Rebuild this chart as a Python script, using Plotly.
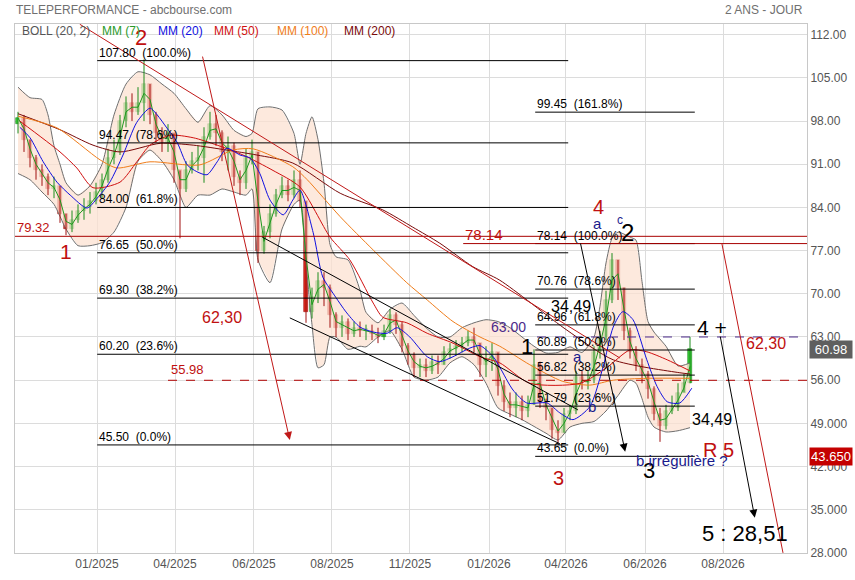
import plotly.graph_objects as go
import pandas as pd

FONT = "Liberation Sans, Arial, sans-serif"

title_text = "TELEPERFORMANCE - abcbourse.com"
period_text = "2 ANS - JOUR"

# ---- price data (one candle per ~4 sessions) ----
first_open = 97.5
closes = [98.5, 95, 92, 90, 89, 87, 87.5, 83, 80.5, 82, 83.5, 84, 85, 86.5, 88.5, 92, 93, 98, 101, 99.5,
          101, 104, 99, 96, 94.5, 96, 90, 87, 90, 91.5, 92, 95.5, 97.5, 96, 93, 94, 89, 88, 92, 93,
          77, 80, 83, 86, 87.5, 86, 88.5, 85, 67, 69.5, 72, 71, 66.5, 64.5, 65.5, 63.5, 64.5, 64, 64, 63.5,
          63, 64, 66.5, 65, 61.5, 60, 58, 58.5, 57.5, 59, 58.5, 60.5, 61, 61.5, 62, 63, 62, 58.5, 59.5, 60.5,
          55, 52.5, 51.5, 52.5, 51, 52, 58.5, 52.5, 51.5, 48, 47.5, 50.5, 51, 56.5, 55.5, 56, 60.5, 63, 69, 75.5,
          71, 64, 60.5, 58.5, 57, 54.5, 50.5, 48.5, 51, 51.5, 54, 55.5, 60.98]
highs = [99.5, 99, 95, 92.5, 91, 89.5, 89, 87.5, 83, 83.5, 84.5, 85.5, 86.5, 88, 89.5, 93.5, 95, 99, 102, 102.5,
         103.5, 108, 104, 99.5, 97, 97.5, 96, 90, 91.5, 93, 94, 97, 99.5, 99, 96.5, 95.5, 94.5, 90, 93.5, 95,
         93, 81, 84.5, 87, 89, 88.5, 90, 90, 85, 71, 73.5, 73.5, 71.5, 67, 66.5, 66, 65.5, 65.5, 65, 65,
         64.5, 65, 67.5, 67, 65.5, 62, 60.5, 59.5, 59.5, 60, 60, 61.5, 62, 62.5, 63, 64, 64.5, 62, 61.5, 62,
         60.5, 56, 54, 54, 53.5, 53.5, 61, 59, 53, 51.5, 49.5, 51.5, 52, 57.5, 57.5, 57.5, 61.5, 64, 70.5, 76.6,
         75.5, 71, 64.5, 61.5, 59.5, 57.5, 55, 51.5, 52, 53.5, 55.5, 57, 63]
lows = [96, 93, 90.5, 88.5, 87.5, 86, 85.5, 81.5, 79.5, 80, 81.5, 82, 83, 84.5, 85.5, 88, 91, 92.5, 97, 98,
        99, 98, 97.5, 94.5, 93, 93, 88, 79, 86.5, 89.5, 90, 88, 95, 94, 91.5, 90, 87.5, 86, 87, 91,
        75, 76.5, 79, 82.5, 85.5, 85, 85.5, 84, 65.3, 66, 68.5, 68, 64.5, 63, 63, 62.5, 63, 63, 62.5, 62.5,
        62, 62.5, 63.5, 63.5, 60.5, 58.5, 56.5, 56.5, 56.5, 57, 57, 58.5, 59.5, 60, 60.5, 61.5, 60.5, 56.5, 56.5, 57.5,
        53.5, 51, 50, 50, 49.5, 50, 52, 51.5, 49.5, 46.5, 45.8, 47.5, 49.5, 50.5, 54.5, 54.5, 55.5, 59.5, 62.5, 68.5,
        69, 62.5, 59.5, 57.5, 55.5, 53, 49.5, 46, 48, 50.5, 51, 54, 55.5]
opens = [first_open] + closes[:-1]
idx = list(range(len(closes)))

# ---- indicators ----
mm20_x = [0.3, 2, 4.2, 6.5, 8.7, 11.5, 13.2, 15.3, 17.5, 19.8, 22, 23.2, 24.8, 26.5, 28.2, 29.8, 31.5, 33.2, 34.8, 37,
          38.7, 40.3, 42, 44.2, 45.8, 47, 49.2, 50.8, 52.5, 54.8, 57, 59.2, 61.5, 63.2, 65.3, 68.2, 70.3, 72.5, 75.3, 77,
          79.2, 80.3, 82.5, 84.8, 88.2, 90.3, 92.5, 95.3, 97.5, 99.2, 100.8, 102.5, 104.8, 106.5, 108.2, 110.3, 112.3]
mm20_y = [97, 95.3, 91.4, 88.1, 86, 83.9, 85.5, 88.1, 92.5, 97.8, 100.1, 99, 96.9, 94.6, 90.9, 89.8, 89.3, 91.4, 93.6, 92.5,
          92, 89.5, 85.2, 82.8, 85.2, 86.8, 79.9, 72.7, 70.1, 66.9, 64.6, 63.8, 63.6, 64.5, 63, 59.8, 59, 59.8, 61.2, 61.6,
          59.8, 58.1, 54.4, 52.3, 52.3, 50.7, 49.6, 51.7, 58.1, 64.6, 67.1, 65.8, 59.3, 55, 52.5, 52.3, 54.7]
mm50_x = [0.3, 7, 9.8, 12.5, 17, 19.8, 22, 25.3, 29.2, 33.2, 37.5, 42.5, 47, 52, 55.3, 59.2, 60.8, 64.8, 68.2, 72.5,
          77, 80.3, 85.3, 93.7, 98.2, 102, 104.8, 108.2, 112]
mm50_y = [98, 93, 90.4, 87.2, 88.1, 91.4, 94.1, 95.7, 95.3, 94.1, 92.5, 90, 87.3, 79.2, 75.5, 68.5, 66.2, 65.3, 63.6, 62,
          59.8, 58.8, 55.5, 55.5, 58.1, 60.9, 60.6, 59.3, 57.5]
mm100_x = [0, 6.5, 13.7, 16.5, 22, 30.3, 35.8, 39.2, 45.8, 48.2, 53.7, 59.2, 64.8, 68.2, 72.5, 77, 80.3, 85.3, 90.8, 95.3,
           99.2, 104.8, 112]
mm100_y = [98.8, 96.9, 91.7, 90.4, 91.4, 90.9, 93.3, 93.5, 90.6, 88.5, 82.5, 77.1, 71.8, 69, 65.5, 63, 61.5, 58.5, 55.8, 55.2,
           56, 56.3, 56.3]
mm200_x = [0, 7, 12.5, 17, 23.7, 29.2, 34.8, 39.8, 45.8, 53.7, 60.8, 65.8, 70.3, 75.8, 80.3, 91.5, 99.2, 110.3, 112]
mm200_y = [99.2, 96.6, 94.1, 93, 94.4, 94.1, 93.3, 92.5, 91.2, 86.3, 83.6, 80.8, 78.2, 74.4, 72.2, 64.1, 59.3, 57.2, 57]

boll_up_x = [0, 2, 4, 5, 6, 7, 8, 10, 12, 14, 16, 18, 20, 22, 24, 26, 28, 30, 32, 34, 36, 38, 39, 40, 42, 44, 46, 47,
             48, 49, 50, 51, 52, 53, 55, 57, 58, 60, 62, 64, 66, 68, 70, 72, 74, 76, 78, 80, 82, 84, 86, 88, 90, 92,
             94, 96, 97, 98, 99, 100, 102, 103, 104, 105, 106, 108, 110, 112]
boll_up = [103.5, 101.8, 101.5, 99, 94, 91, 88, 86, 87.5, 91, 99, 104, 106, 105.5, 104, 102.5, 100, 97.8, 100.5, 99,
           96.5, 95.5, 96, 100, 100.3, 99.8, 96, 91, 96, 98.7, 95, 88, 78, 76, 75.5, 70.6, 67, 65.3, 67.5, 68.5,
           66.5, 64.5, 63, 63, 64.5, 65.3, 65.8, 65.5, 64.5, 63, 61.5, 60.4, 60.5, 61.4, 60.5, 63, 68, 75, 79, 80,
           79.2, 78.7, 72, 65.5, 63.8, 61.5, 58.3, 58.8]
boll_lo_x = [0, 2, 4, 6, 8, 10, 12, 14, 16, 18, 20, 22, 24, 26, 27, 28, 30, 32, 34, 36, 38, 39, 40, 42, 44, 46, 47, 48,
             49, 50, 51, 52, 53, 55, 57, 58, 60, 62, 64, 66, 68, 70, 72, 74, 76, 78, 80, 82, 84, 86, 88, 90, 92, 94,
             96, 98, 100, 102, 103, 104, 105, 106, 108, 110, 112]
boll_lo = [89.5, 88.5, 86.5, 84.5, 80.5, 77.8, 77.8, 78.3, 80, 84, 91.5, 93.3, 91.5, 88.5, 86, 84, 86, 86, 87, 86.5,
           86, 87, 75.5, 71.8, 80.5, 84.5, 85.2, 75, 65, 58, 58.5, 63, 63, 61, 61.5, 61.4, 63, 64, 61, 56.5,
           56, 56.5, 58.8, 59.8, 58.5, 55.5, 51.5, 50.5, 49.6, 48.5, 47.4, 46.3, 48.4, 49, 49.3, 51, 53.5, 56, 55.5, 53,
           50, 48.4, 47.6, 47.8, 48.3]

# ---- axes ----
x_tick_pos = [13.17, 26.17, 39.33, 52.33, 65.33, 78.5, 91.33, 104.5, 117.5]
x_tick_labels = ["01/2025", "04/2025", "06/2025", "08/2025", "11/2025", "01/2026", "04/2026", "06/2026", "08/2026"]
y_ticks = [28, 35, 42, 49, 56, 63, 70, 77, 84, 91, 98, 105, 112]
y_tick_labels = ["28.000", "35.000", "42.000", "49.000", "56.00", "63.00", "70.00", "77.00", "84.00",
                 "91.00", "98.00", "105.00", "112.00"]

# ---- fibonacci retracements ----
fib1_levels = [107.80, 94.47, 84.00, 76.65, 69.30, 60.20, 45.50]
fib1_pcts = ["100.0%", "78.6%", "61.8%", "50.0%", "38.2%", "23.6%", "0.0%"]
fib1_span = [13.2, 91.7]
fib2_levels = [99.45, 78.14, 70.76, 64.96, 60.89, 56.82, 51.79, 43.65]
fib2_pcts = ["161.8%", "100.0%", "78.6%", "61.8%", "50.0%", "38.2%", "23.6%", "0.0%"]
fib2_span = [86.2, 112.8]

last_price = 60.98
red_tag_price = 43.65

fig = go.Figure()

# Bollinger band
band_x = boll_up_x + boll_lo_x[::-1]
band_y = boll_up + boll_lo[::-1]
fig.add_trace(go.Scatter(x=band_x, y=band_y, fill="toself", fillcolor="rgba(252,226,210,0.75)",
                         line=dict(width=0), mode="lines", hoverinfo="skip", showlegend=False))
for bx, by in [(boll_up_x, boll_up), (boll_lo_x, boll_lo)]:
    fig.add_trace(go.Scatter(x=bx, y=by, mode="lines", line=dict(color="#6e6e6e", width=1, shape="spline", smoothing=0.6),
                             hoverinfo="skip", showlegend=False))

# candles: wicks + bodies
UP_FILL, UP_LINE = "#36c936", "#1c8c1c"
DN_FILL, DN_LINE = "#dc2a1e", "#a01010"
for up in (True, False):
    wx, wy = [], []
    for i, o, h, l, c in zip(idx, opens, highs, lows, closes):
        if (c >= o) == up:
            wx += [i, i, None]
            wy += [l, h, None]
    fig.add_trace(go.Scatter(x=wx, y=wy, mode="lines", line=dict(color=UP_LINE if up else DN_LINE, width=1),
                             hoverinfo="skip", showlegend=False))
body_base = [min(o, c) for o, c in zip(opens, closes)]
body_len = [max(abs(c - o), 0.25) for o, c in zip(opens, closes)]
body_fill = [UP_FILL if c >= o else DN_FILL for o, c in zip(opens, closes)]
body_line = [UP_LINE if c >= o else DN_LINE for o, c in zip(opens, closes)]
fig.add_trace(go.Bar(x=idx, y=body_len, base=body_base, width=0.62,
                     marker=dict(color=body_fill, line=dict(color=body_line, width=0.6)),
                     hoverinfo="skip", showlegend=False))

mm7 = pd.Series(closes).rolling(2, min_periods=1).mean().tolist()
fig.add_trace(go.Scatter(x=idx, y=mm7, mode="lines", line=dict(color="#1f9a1f", width=1), showlegend=False, hoverinfo="skip"))
for mx, my, col in [(mm200_x, mm200_y, "#7a0a0a"), (mm100_x, mm100_y, "#f07d1a"),
                    (mm50_x, mm50_y, "#d01010"), (mm20_x, mm20_y, "#1010e0")]:
    fig.add_trace(go.Scatter(x=mx, y=my, mode="lines", line=dict(color=col, width=1, shape="spline", smoothing=0.7),
                             showlegend=False, hoverinfo="skip"))

shapes = []
annotations = []

def txt(x, y, s, color, size, xanchor="center", yanchor="middle", xref="x", yref="y", **kw):
    annotations.append(dict(x=x, y=y, xref=xref, yref=yref, text=s, showarrow=False,
                            xanchor=xanchor, yanchor=yanchor,
                            font=dict(family=FONT, size=size, color=color), **kw))

for lv, pc in zip(fib1_levels, fib1_pcts):
    shapes.append(dict(type="line", x0=fib1_span[0], x1=fib1_span[1], y0=lv, y1=lv, line=dict(color="black", width=1)))
    txt(fib1_span[0], lv, f"{lv:.2f}\u00a0\u00a0({pc})", "black", 12, xanchor="left", yanchor="bottom", yshift=-1)
for lv, pc in zip(fib2_levels, fib2_pcts):
    shapes.append(dict(type="line", x0=fib2_span[0], x1=fib2_span[1], y0=lv, y1=lv, line=dict(color="black", width=1)))
    txt(fib2_span[0], lv, f"{lv:.2f}\u00a0\u00a0({pc})", "black", 12, xanchor="left", yanchor="bottom", yshift=-1)

# horizontal reference lines
shapes.append(dict(type="line", xref="paper", x0=0, x1=1, y0=79.32, y1=79.32, line=dict(color="#a80000", width=1)))
shapes.append(dict(type="line", x0=74.2, x1=131.5, y0=78.14, y1=78.14, line=dict(color="#a80000", width=1)))
shapes.append(dict(type="line", x0=25, x1=131.5, y0=55.98, y1=55.98, line=dict(color="#b00000", width=1, dash="dash")))
shapes.append(dict(type="line", x0=86.5, x1=131.5, y0=63.00, y1=63.00, line=dict(color="#4b2a8a", width=1, dash="dash")))

# trend lines
shapes.append(dict(type="line", x0=10.3, y0=113.7, x1=100.3, y1=59.6, line=dict(color="#c01818", width=1)))
shapes.append(dict(type="line", x0=117.3, y0=78.2, x1=127.5, y1=28, line=dict(color="#c01818", width=1)))
shapes.append(dict(type="line", x0=40.7, y0=79.2, x1=93.3, y1=51.2, line=dict(color="black", width=1)))
shapes.append(dict(type="line", x0=45.3, y0=66.1, x1=90.3, y1=45.7, line=dict(color="black", width=1)))

# arrows
for (tx, ty, hx, hy, col) in [(30.7, 108.7, 45.3, 46.3, "#c01818"),
                              (93.7, 78.4, 101.2, 44.4, "black"),
                              (117.0, 63.3, 122.8, 33.7, "black")]:
    annotations.append(dict(x=hx, y=hy, ax=tx, ay=ty, xref="x", yref="y", axref="x", ayref="y", text="",
                            showarrow=True, arrowhead=2, arrowsize=1.6, arrowwidth=1, arrowcolor=col, standoff=0))

# wave labels
RED = "#c01010"
NAVY = "#1a1a8c"
txt(8, 76.9, "1", RED, 21)
txt(20.5, 111.6, "2", RED, 22)
txt(90, 40.2, "3", RED, 20)
txt(96.7, 84.1, "4", RED, 20)
txt(116.7, 44.7, "R 5", RED, 20)
txt(34.0, 66.1, "62,30", RED, 16)
txt(124.7, 61.9, "62,30", RED, 16)
txt(28.3, 57.8, "55.98", RED, 13)
txt(2.5, 80.8, "79.32", RED, 13)
txt(77.7, 79.6, "78.14", RED, 15)
txt(81.8, 64.6, "63.00", "#4b2a8a", 14)
txt(84.8, 61.5, "1", "black", 22)
txt(101.5, 79.9, "2", "black", 24)
txt(105.1, 41.4, "3", "black", 22)
txt(115.7, 64.5, "4 +", "black", 21)
txt(121.2, 31.2, "5 : 28,51", "black", 22)
txt(92.2, 67.9, "34,49", "black", 16)
txt(115.7, 49.7, "34,49", "black", 16)
txt(96.5, 81.4, "a", NAVY, 15)
txt(100.3, 82.0, "c", NAVY, 12)
txt(93.2, 59.9, "a", NAVY, 15)
txt(95.7, 51.8, "b", NAVY, 15)
txt(102.6, 43.0, "b irrégulière ?", NAVY, 15, xanchor="left")

# header & legend
txt(-0.001, 1.0265, title_text, "#707070", 12, xanchor="left", xref="paper", yref="paper")
txt(0.9975, 1.0265, period_text, "#707070", 12, xanchor="right", xref="paper", yref="paper")
legend_items = [("BOLL (20, 2)", "#555555", 0.0063), ("MM (7)", "#2a9a2a", 0.107), ("MM (20)", "#1010e0", 0.178),
                ("MM (50)", "#d01010", 0.249), ("MM (100)", "#f07d1a", 0.328), ("MM (200)", "#7a0a0a", 0.413)]
for name, col, px in legend_items:
    txt(px, 0.987, name, col, 12, xanchor="left", xref="paper", yref="paper")

# price tags
annotations.append(dict(x=1, y=last_price, xref="paper", yref="y", text=f"{last_price:.2f}", showarrow=False,
                        xanchor="left", yanchor="middle", xshift=2, bgcolor="#5f5f5f", width=40, height=15,
                        font=dict(family=FONT, size=13, color="white")))
annotations.append(dict(x=1, y=red_tag_price, xref="paper", yref="y", text=f"{red_tag_price:.3f}", showarrow=False,
                        xanchor="left", yanchor="middle", xshift=2, bgcolor="#c40000", width=40, height=15,
                        font=dict(family=FONT, size=13, color="white")))

fig.update_layout(
    width=855, height=580, margin=dict(l=15, r=48, t=24, b=27, autoexpand=False),
    paper_bgcolor="white", plot_bgcolor="white", bargap=0,
    shapes=shapes, annotations=annotations, showlegend=False,
    xaxis=dict(range=[-0.5, 131.5], tickvals=x_tick_pos, ticktext=x_tick_labels, showgrid=True, automargin=False,
               gridcolor="#dcdcdc", gridwidth=1, zeroline=False, rangeslider=dict(visible=False),
               showline=True, linecolor="#c8c8c8", mirror=True, ticks="",
               tickfont=dict(family=FONT, size=12, color="#555555")),
    yaxis=dict(range=[27.98, 113.74], side="right", tickvals=y_ticks, ticktext=y_tick_labels, showgrid=True,
               automargin=False, gridcolor="#dcdcdc", gridwidth=1, zeroline=False, showline=True,
               linecolor="#c8c8c8", mirror=True,
               ticks="", tickfont=dict(family=FONT, size=12, color="#555555")),
)

fig.write_html("out.html", config={"displayModeBar": False},
               post_script="document.body.style.margin='0';")
